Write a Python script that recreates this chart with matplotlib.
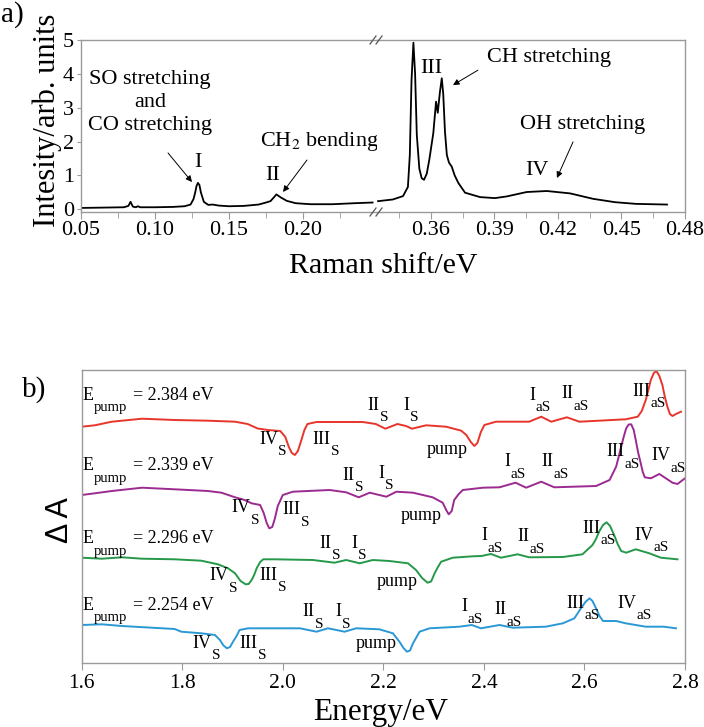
import matplotlib
matplotlib.use('Agg')
import matplotlib.pyplot as plt
from matplotlib.lines import Line2D

plt.rcParams['font.family'] = ['Liberation Serif', 'DejaVu Serif']
plt.rcParams['mathtext.fontset'] = 'stix'

# ---------------- Panel a data (Raman spectrum) ----------------
raman_low_x = [0.050, 0.065, 0.079, 0.082, 0.0835, 0.085, 0.087, 0.0885, 0.090, 0.100,
               0.112, 0.120, 0.124, 0.126, 0.1272, 0.128, 0.129, 0.130, 0.131, 0.133, 0.136,
               0.139, 0.143, 0.150, 0.160, 0.170, 0.175, 0.178, 0.1805, 0.182, 0.185,
               0.189, 0.195, 0.205, 0.220, 0.235, 0.247]
raman_low_y = [0.04, 0.05, 0.06, 0.10, 0.22, 0.08, 0.06, 0.09, 0.06, 0.06,
               0.07, 0.09, 0.14, 0.30, 0.50, 0.68, 0.78, 0.72, 0.50, 0.22, 0.13,
               0.14, 0.11, 0.09, 0.10, 0.14, 0.20, 0.24, 0.36, 0.44, 0.35,
               0.25, 0.18, 0.15, 0.15, 0.18, 0.20]
raman_high_x = [0.335, 0.342, 0.3468, 0.3491, 0.3500, 0.3508, 0.3517, 0.3525, 0.3533,
                0.3545, 0.3556, 0.3567, 0.3580, 0.3592, 0.3611,
                0.3624, 0.3632, 0.3642, 0.3651, 0.3658, 0.3666, 0.3675, 0.3685, 0.3698,
                0.3712, 0.3729, 0.3761, 0.3832,
                0.3902, 0.3958, 0.4052, 0.4147, 0.4257, 0.4365, 0.4469, 0.4568, 0.4715]
raman_high_y = [0.24, 0.29, 0.39, 0.66, 1.60, 3.80, 4.92, 4.00, 2.20,
                1.20, 0.92, 0.87, 1.05, 1.46, 2.25,
                3.18, 2.85, 3.45, 3.87, 3.40, 2.30, 1.60, 1.38, 1.26,
                1.00, 0.78, 0.49, 0.36,
                0.33, 0.38, 0.51, 0.54, 0.47, 0.31, 0.21, 0.16, 0.14]
a_low_ticks = [0.05, 0.10, 0.15, 0.20]
a_high_ticks = [0.36, 0.39, 0.42, 0.45, 0.48]
a_y_ticks = [0, 1, 2, 3, 4, 5]

# ---------------- Panel b data (pump-probe traces) ----------------
red_E = [1.600, 1.626, 1.660, 1.720, 1.785, 1.851, 1.905, 1.930, 1.950, 1.970,
         1.995, 2.005, 2.012, 2.018, 2.024, 2.030, 2.037, 2.043, 2.049, 2.067,
         2.159, 2.185, 2.204, 2.228, 2.245, 2.257, 2.285, 2.325, 2.355, 2.365,
         2.374, 2.381, 2.387, 2.394, 2.401, 2.424,
         2.490, 2.514, 2.534, 2.565, 2.590, 2.682, 2.706, 2.714, 2.722, 2.732,
         2.738, 2.743, 2.749, 2.755, 2.760, 2.765, 2.770, 2.775, 2.782, 2.792]
red_dA = [236.3, 237.7, 241.3, 244.3, 243.0, 242.3, 241.3, 239.0, 234.5, 233.0,
          232.0, 226.0, 216.0, 210.0, 208.0, 212.0, 223.0, 233.0, 239.0, 241.0,
          241.0, 239.0, 234.3, 239.0, 237.0, 234.3, 237.7, 236.3, 232.3, 228.0,
          221.0, 217.0, 220.0, 231.0, 238.0, 241.3,
          241.3, 246.3, 241.3, 245.7, 241.3, 243.7, 246.3, 252.0, 263.0, 283.0,
          290.0, 292.0, 287.0, 278.0, 266.0, 256.3, 249.0, 247.0, 249.0, 251.3]

purple_E = [1.600, 1.626, 1.660, 1.720, 1.785, 1.851, 1.878, 1.905, 1.924, 1.938,
            1.955, 1.962, 1.968, 1.973, 1.979, 1.984, 1.990, 2.000, 2.020, 2.093,
            2.126, 2.151, 2.173,
            2.206, 2.226, 2.259, 2.298, 2.318, 2.325, 2.330, 2.336, 2.341, 2.350,
            2.358, 2.398, 2.431,
            2.463, 2.484, 2.514, 2.540, 2.623, 2.650, 2.663, 2.668, 2.673, 2.678,
            2.683, 2.688, 2.693, 2.698, 2.702, 2.707, 2.712, 2.716, 2.720, 2.732,
            2.749, 2.765, 2.775, 2.785, 2.800]
purple_dA = [168.0, 169.7, 172.0, 175.3, 173.7, 172.0, 170.3, 165.7, 163.0, 159.7,
             158.0, 150.0, 140.0, 134.7, 136.0, 144.0, 157.0, 168.0, 171.3, 173.0,
             170.7, 165.7, 170.3,
             166.3, 171.3, 170.3, 165.7, 160.3, 153.0, 148.7, 152.0, 163.0, 169.0,
             173.0, 175.3, 175.7,
             180.3, 175.3, 181.3, 175.7, 177.0, 183.0, 196.3, 206.0, 216.3, 226.0,
             234.7, 238.5, 238.7, 233.0, 223.0, 210.0, 199.7, 191.0, 185.7, 184.7,
             189.0, 183.7, 180.3, 179.0, 184.7]

green_E = [1.600, 1.640, 1.680, 1.720, 1.785, 1.838, 1.871, 1.891, 1.905, 1.916,
           1.926, 1.932, 1.938, 1.943, 1.948, 1.955, 1.961, 1.984, 2.060, 2.103,
           2.126, 2.153, 2.179, 2.212,
           2.249, 2.265, 2.277, 2.288, 2.295, 2.302, 2.308, 2.315, 2.338, 2.378,
           2.395, 2.414, 2.434,
           2.467, 2.490, 2.557, 2.596, 2.616, 2.623, 2.629, 2.637, 2.644, 2.651,
           2.659, 2.666, 2.673, 2.683,
           2.702, 2.729, 2.752, 2.785]
green_dA = [105.3, 104.3, 105.7, 104.3, 103.7, 102.3, 98.7, 94.7, 89.7, 82.0,
            78.7, 79.0, 83.0, 88.0, 94.7, 101.0, 103.7, 103.7, 103.0, 100.3,
            103.0, 99.7, 103.0, 102.0,
            99.7, 93.0, 85.0, 80.3, 81.5, 89.7, 95.5, 101.3, 105.3, 106.7,
            107.0, 109.0, 105.3,
            108.7, 105.7, 106.0, 108.7, 118.0, 124.0, 131.3, 138.0, 140.7, 137.0,
            128.0, 119.0, 112.0, 110.3,
            113.7, 109.7, 105.3, 103.7]

blue_E = [1.600, 1.640, 1.680, 1.785, 1.798, 1.838, 1.865, 1.875, 1.882, 1.889,
          1.895, 1.901, 1.908, 1.914, 1.931, 1.984, 2.034, 2.067, 2.090, 2.123,
          2.146, 2.192, 2.219,
          2.232, 2.240, 2.247, 2.253, 2.259, 2.265, 2.272, 2.292, 2.351, 2.376,
          2.394, 2.431, 2.457,
          2.523, 2.557, 2.580, 2.593, 2.602, 2.610, 2.616, 2.623, 2.630, 2.637,
          2.663, 2.682, 2.722, 2.758, 2.782]
blue_dA = [38.0, 38.7, 37.0, 34.0, 31.3, 29.7, 28.0, 23.0, 17.5, 14.7,
           16.0, 21.3, 27.0, 33.0, 34.7, 34.7, 34.7, 31.3, 34.7, 31.3,
           34.7, 33.7, 29.7,
           21.3, 15.0, 11.3, 12.5, 19.7, 25.0, 31.3, 34.7, 36.3, 38.0,
           34.7, 38.0, 35.3,
           36.3, 39.7, 44.7, 54.7, 61.0, 64.7, 62.0, 54.7, 47.0, 42.0,
           42.0, 39.7, 36.3, 36.3, 34.7]

pump_energies = ['2.384', '2.339', '2.296', '2.254']
b_x_ticks = [1.6, 1.8, 2.0, 2.2, 2.4, 2.6, 2.8]

# label positions (data coords): (main, sub, x_left, y)
labels_b = [
    [('IV', 'S', 1.9527, 224), ('III', 'S', 2.0594, 224), ('II', 'S', 2.1686, 258),
     ('I', 'S', 2.2401, 258), ('I', 'aS', 2.4904, 268), ('II', 'aS', 2.5533, 269),
     ('III', 'aS', 2.6949, 272)],
    [('IV', 'S', 1.8985, 155), ('III', 'S', 1.9998, 153), ('II', 'S', 2.119, 188),
     ('I', 'S', 2.1905, 190), ('I', 'aS', 2.4407, 201.3), ('II', 'aS', 2.5142, 201.3),
     ('III', 'aS', 2.6433, 211.3), ('IV', 'aS', 2.7327, 207.3)],
    [('IV', 'S', 1.8548, 87.3), ('III', 'S', 1.9541, 88), ('II', 'S', 2.0733, 119.7),
     ('I', 'S', 2.1368, 119.7), ('I', 'aS', 2.3944, 127.3), ('II', 'aS', 2.4665, 126.3),
     ('III', 'aS', 2.5956, 134.7), ('IV', 'aS', 2.6989, 128)],
    [('IV', 'S', 1.8211, 19.7), ('III', 'S', 1.9144, 19.7), ('II', 'S', 2.0395, 51.3),
     ('I', 'S', 2.1051, 51.3), ('I', 'aS', 2.3553, 56.3), ('II', 'aS', 2.4209, 53),
     ('III', 'aS', 2.5639, 59.7), ('IV', 'aS', 2.6651, 59.7)],
]
pump_label_pos = [(2.3265, 213), (2.2759, 148), (2.2282, 81.3), (2.1865, 19.7)]
epump_y = [268, 197, 124.7, 58]

W, H = 704, 727
fig = plt.figure(figsize=(W / 100, H / 100), dpi=100)

spine_c = '#9a9a9a'

# ---------------- Panel a ----------------
axL = fig.add_axes([81 / W, 1 - 212 / H, 296 / W, 172 / H])
axR = fig.add_axes([377 / W, 1 - 212 / H, 308 / W, 172 / H])
for ax in (axL, axR):
    ax.set_ylim(-0.08, 5.0)
    for s in ax.spines.values():
        s.set_color(spine_c)
        s.set_linewidth(1.0)
    ax.tick_params(axis='x', which='major', direction='out', length=5, color=spine_c,
                   labelsize=16, pad=1.5)
    ax.tick_params(axis='x', which='minor', direction='out', length=4, color=spine_c)
axL.spines['right'].set_visible(False)
axR.spines['left'].set_visible(False)

axL.plot(raman_low_x, raman_low_y, color='black', lw=1.3)
axR.plot(raman_high_x, raman_high_y, color='black', lw=1.3)
axL.set_xlim(0.05, 0.25)
axR.set_xlim(0.3345, 0.48)
axL.set_xticks(a_low_ticks)
axL.set_xticklabels([f'{v:.2f}' for v in a_low_ticks])
axL.set_xticks([0.075, 0.125, 0.175, 0.225], minor=True)
axR.set_xticks(a_high_ticks)
axR.set_xticklabels([f'{v:.2f}' for v in a_high_ticks])
axR.set_xticks([0.345, 0.375, 0.405, 0.435, 0.465], minor=True)
axL.set_yticks(a_y_ticks)
axL.set_yticklabels([str(v) for v in a_y_ticks])
axL.tick_params(axis='y', direction='out', length=3, color=spine_c, labelsize=16, pad=2)
axR.set_yticks([])

# break marks
for yy in (40, 212):
    for cx in (373, 379):
        fig.add_artist(Line2D([(cx - 3) / W, (cx + 3) / W], [1 - (yy + 4) / H, 1 - (yy - 4) / H],
                              color='#555555', lw=0.9))

arrow = dict(arrowstyle='-|>', color='black', lw=0.7, mutation_scale=9, shrinkA=0, shrinkB=0)
fs_a = 16
axL.text(0.0966, 3.16, 'SO stretching\nand\nCO stretching', ha='center', va='center',
         fontsize=fs_a, linespacing=1.3)
axL.annotate('', xy=(0.125, 0.806), xytext=(0.1088, 1.663), arrowprops=arrow)
axL.text(0.129, 1.37, 'I', ha='center', va='center', fontsize=fs_a)
axL.text(0.1797, 0.985, 'II', ha='center', va='center', fontsize=fs_a)
axL.text(0.171, 2.0, r'CH$_{\mathrm{2}}$ bending', ha='left', va='center', fontsize=fs_a)
axL.annotate('', xy=(0.1865, 0.511), xytext=(0.2027, 1.456), arrowprops=arrow)
axR.text(0.360, 4.17, 'III', ha='center', va='center', fontsize=fs_a)
axR.text(0.3865, 4.47, 'CH stretching', ha='left', va='center', fontsize=fs_a)
axR.annotate('', xy=(0.3704, 3.67), xytext=(0.3822, 4.11), arrowprops=arrow)
axR.text(0.4021, 2.49, 'OH stretching', ha='left', va='center', fontsize=fs_a)
axR.annotate('', xy=(0.4195, 0.925), xytext=(0.4271, 1.99), arrowprops=arrow)
axR.text(0.4101, 1.16, 'IV', ha='center', va='center', fontsize=fs_a)

fig.text(0.5 / W, 1 - 15 / H, 'a)', ha='left', va='center', fontsize=21)
fig.text(47 / W, 1 - 120 / H, 'Intesity/arb. units', rotation=90, ha='center', va='center',
         fontsize=22)
fig.text(383 / W, 1 - 273 / H, 'Raman shift/eV', ha='center', va='baseline', fontsize=21.5)

# ---------------- Panel b ----------------
axb = fig.add_axes([81.7 / W, 1 - 663 / H, (685 - 81.7) / W, (663 - 370) / H])
for s in axb.spines.values():
    s.set_color(spine_c)
    s.set_linewidth(1.0)
axb.set_xlim(1.6, 2.8)
axb.set_ylim(0, 293)
axb.set_yticks([])
axb.set_xticks(b_x_ticks)
axb.set_xticklabels([f'{v:.1f}' for v in b_x_ticks])
axb.tick_params(axis='x', direction='out', length=5, color=spine_c, labelsize=15.5, pad=3)

traces = [(red_E, red_dA, '#e8352c'), (purple_E, purple_dA, '#9b2a91'),
          (green_E, green_dA, '#25984a'), (blue_E, blue_dA, '#2b98d6')]
for E, dA, c in traces:
    axb.plot(E, dA, color=c, lw=1.4, solid_joinstyle='round')

fs_b, fs_sub = 13, 11


def roman(ax, x, y, main, sub):
    t = ax.text(x, y, main, ha='left', va='center', fontsize=fs_b)
    ax.annotate(sub, xy=(1, 0), xycoords=t, xytext=(0.3, 1.8), textcoords='offset points',
                ha='left', va='top', fontsize=fs_sub)


for lab in labels_b:
    for main, sub, x, y in lab:
        roman(axb, x, y, main, sub)

for (px, py) in pump_label_pos:
    axb.text(px, py, 'pump', ha='center', va='center', fontsize=fs_b)

for en, y in zip(pump_energies, epump_y):
    t = axb.text(1.6026, y, 'E', ha='left', va='center', fontsize=fs_b)
    axb.annotate('pump', xy=(1, 0), xycoords=t, xytext=(-0.5, 1.5), textcoords='offset points',
                 ha='left', va='top', fontsize=10.5)
    axb.text(1.7019, y, f'= {en} eV', ha='left', va='center', fontsize=fs_b)

fig.text(22 / W, 1 - 390 / H, 'b)', ha='left', va='center', fontsize=21)
fig.text(60 / W, 1 - 520 / H, 'Δ A', rotation=90, ha='center', va='center', fontsize=22,
         family=['Liberation Sans', 'DejaVu Sans'])
fig.text(381 / W, 1 - 720 / H, 'Energy/eV', ha='center', va='baseline', fontsize=22.5)

fig.savefig('out.png', dpi=100)
